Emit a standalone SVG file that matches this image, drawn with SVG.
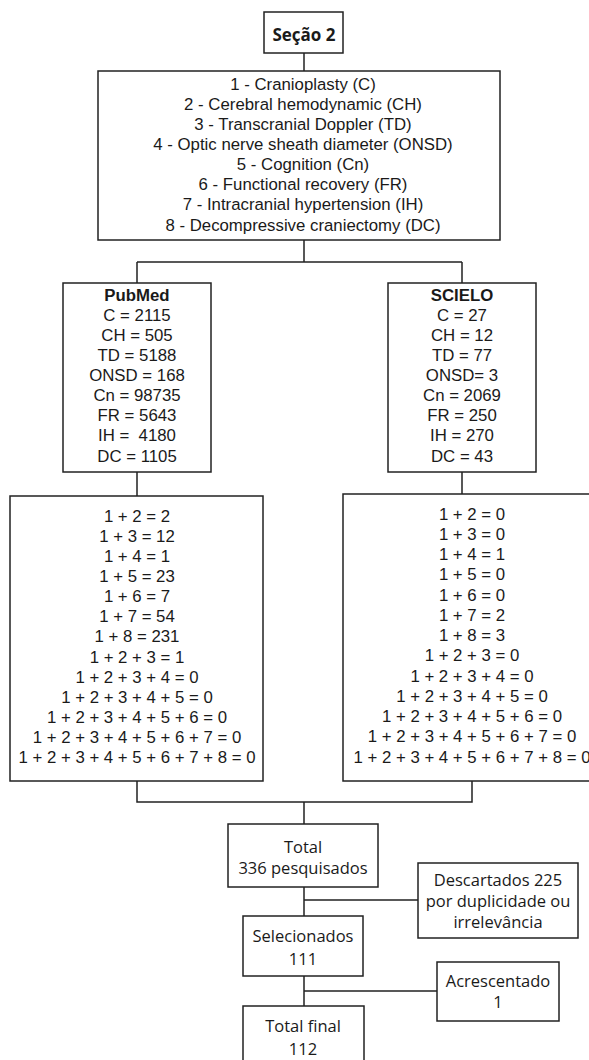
<svg xmlns="http://www.w3.org/2000/svg" width="589" height="1060" viewBox="0 0 589 1060">
<style>
.box{fill:#fff;stroke:#222;stroke-width:1.5}
.ln{fill:none;stroke:#222;stroke-width:1.5}
.a{font-family:"Liberation Sans",Arial,sans-serif;font-size:16.8px;fill:#1a1a1a;text-anchor:middle}
.ab{font-family:"Liberation Sans",Arial,sans-serif;font-size:16.8px;font-weight:bold;fill:#1a1a1a;text-anchor:middle}
.o{font-family:"Open Sans","Noto Sans",sans-serif;font-size:16.5px;fill:#1a1a1a;text-anchor:middle}
.ob{font-family:"Open Sans","Noto Sans",sans-serif;font-size:17px;font-weight:bold;fill:#1a1a1a;text-anchor:middle}
</style>
<rect width="589" height="1060" fill="#fff"/>
<g id="connectors">
<path class="ln" d="M304 53V71"/>
<path class="ln" d="M304 240V262M137 262H462M137 262V283M462 262V283"/>
<path class="ln" d="M137 472V496M462 472V494"/>
<path class="ln" d="M137 781V802H472V781M304 802V824"/>
<path class="ln" d="M304 887V916M304 900H418"/>
<path class="ln" d="M304 976V1006M304 991H437"/>
</g>
<g id="secao2">
<rect class="box" x="264" y="12" width="79" height="41"/>
<text class="ob" x="304" y="41">Seção 2</text>
</g>
<g id="termos">
<rect class="box" x="98" y="71" width="402" height="169"/>
<text class="a" x="303" y="90">1 - Cranioplasty (C)</text>
<text class="a" x="303" y="110">2 - Cerebral hemodynamic (CH)</text>
<text class="a" x="303" y="130">3 - Transcranial Doppler (TD)</text>
<text class="a" x="303" y="150">4 - Optic nerve sheath diameter (ONSD)</text>
<text class="a" x="303" y="170">5 - Cognition (Cn)</text>
<text class="a" x="303" y="190">6 - Functional recovery (FR)</text>
<text class="a" x="303" y="210">7 - Intracranial hypertension (IH)</text>
<text class="a" x="303" y="231">8 - Decompressive craniectomy (DC)</text>
</g>
<g id="pubmed">
<rect class="box" x="63" y="283" width="148" height="189"/>
<text class="ab" x="137" y="301">PubMed</text>
<text class="a" x="137" y="321">C = 2115</text>
<text class="a" x="137" y="341">CH = 505</text>
<text class="a" x="137" y="361">TD = 5188</text>
<text class="a" x="137" y="381">ONSD = 168</text>
<text class="a" x="137" y="401">Cn = 98735</text>
<text class="a" x="137" y="421">FR = 5643</text>
<text class="a" x="137" y="441" xml:space="preserve">IH =  4180</text>
<text class="a" x="137" y="462">DC = 1105</text>
</g>
<g id="scielo">
<rect class="box" x="388" y="283" width="148" height="189"/>
<text class="ab" x="462" y="301">SCIELO</text>
<text class="a" x="462" y="321">C = 27</text>
<text class="a" x="462" y="341">CH = 12</text>
<text class="a" x="462" y="361">TD = 77</text>
<text class="a" x="462" y="381">ONSD= 3</text>
<text class="a" x="462" y="401">Cn = 2069</text>
<text class="a" x="462" y="421">FR = 250</text>
<text class="a" x="462" y="441">IH = 270</text>
<text class="a" x="462" y="462">DC = 43</text>
</g>
<g id="pubmed-comb">
<rect class="box" x="10" y="496" width="253" height="285"/>
<text class="a" x="137" y="522">1 + 2 = 2</text>
<text class="a" x="137" y="542">1 + 3 = 12</text>
<text class="a" x="137" y="562">1 + 4 = 1</text>
<text class="a" x="137" y="582">1 + 5 = 23</text>
<text class="a" x="137" y="602">1 + 6 = 7</text>
<text class="a" x="137" y="622">1 + 7 = 54</text>
<text class="a" x="137" y="642">1 + 8 = 231</text>
<text class="a" x="137" y="663">1 + 2 + 3 = 1</text>
<text class="a" x="137" y="683">1 + 2 + 3 + 4 = 0</text>
<text class="a" x="137" y="703">1 + 2 + 3 + 4 + 5 = 0</text>
<text class="a" x="137" y="723">1 + 2 + 3 + 4 + 5 + 6 = 0</text>
<text class="a" x="137" y="743">1 + 2 + 3 + 4 + 5 + 6 + 7 = 0</text>
<text class="a" x="137" y="763">1 + 2 + 3 + 4 + 5 + 6 + 7 + 8 = 0</text>
</g>
<g id="scielo-comb">
<rect class="box" x="343" y="494" width="260" height="287"/>
<text class="a" x="472" y="520">1 + 2 = 0</text>
<text class="a" x="472" y="540">1 + 3 = 0</text>
<text class="a" x="472" y="560">1 + 4 = 1</text>
<text class="a" x="472" y="580">1 + 5 = 0</text>
<text class="a" x="472" y="601">1 + 6 = 0</text>
<text class="a" x="472" y="621">1 + 7 = 2</text>
<text class="a" x="472" y="641">1 + 8 = 3</text>
<text class="a" x="472" y="661">1 + 2 + 3 = 0</text>
<text class="a" x="472" y="682">1 + 2 + 3 + 4 = 0</text>
<text class="a" x="472" y="702">1 + 2 + 3 + 4 + 5 = 0</text>
<text class="a" x="472" y="722">1 + 2 + 3 + 4 + 5 + 6 = 0</text>
<text class="a" x="472" y="742">1 + 2 + 3 + 4 + 5 + 6 + 7 = 0</text>
<text class="a" x="472" y="763">1 + 2 + 3 + 4 + 5 + 6 + 7 + 8 = 0</text>
</g>
<g id="total">
<rect class="box" x="228" y="824" width="150" height="63"/>
<text class="o" x="303" y="853">Total</text>
<text class="o" x="303" y="874">336 pesquisados</text>
</g>
<g id="descartados">
<rect class="box" x="418" y="863" width="160" height="75"/>
<text class="o" x="498" y="886">Descartados 225</text>
<text class="o" x="498" y="907">por duplicidade ou</text>
<text class="o" x="498" y="928">irrelevância</text>
</g>
<g id="selecionados">
<rect class="box" x="243" y="916" width="120" height="60"/>
<text class="o" x="303" y="942">Selecionados</text>
<text class="o" x="303" y="965">111</text>
</g>
<g id="acrescentado">
<rect class="box" x="437" y="962" width="122" height="59"/>
<text class="o" x="498" y="987">Acrescentado</text>
<text class="o" x="498" y="1008">1</text>
</g>
<g id="totalfinal">
<rect class="box" x="243" y="1006" width="121" height="64"/>
<text class="o" x="303" y="1032">Total final</text>
<text class="o" x="303" y="1055">112</text>
</g>
</svg>
